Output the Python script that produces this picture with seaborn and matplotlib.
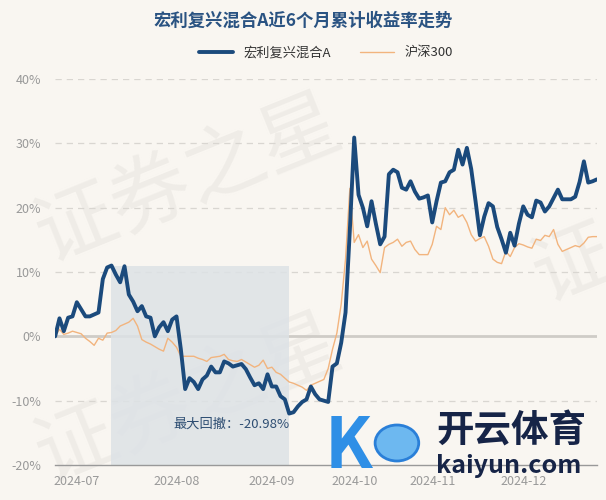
import numpy as np
import pandas as pd
import seaborn as sns
import matplotlib.pyplot as plt
from matplotlib.patches import Circle

# 数据: 交易日序号 -> 累计收益率(%)
fund_name = "宏利复兴混合A"
index_name = "沪深300"

fund = [0.0, 2.8, 0.8, 2.9, 3.1, 5.3, 4.2, 3.1, 3.1, 3.4,
        3.7, 8.9, 10.7, 11.0, 9.6, 8.4, 10.9, 6.5, 5.4, 3.9,
        4.7, 3.1, 2.9, 0.0, 1.4, 2.2, 0.8, 2.6, 3.1, -2.0,
        -8.2, -6.5, -7.1, -8.2, -6.7, -6.1, -4.7, -5.6, -5.6, -3.9,
        -4.2, -4.7, -4.5, -4.3, -5.1, -6.4, -7.6, -7.3, -8.2, -5.9,
        -7.8, -7.8, -9.3, -9.8, -12.0, -11.8, -10.9, -10.2, -9.8, -7.8,
        -9.0, -9.8, -10.0, -10.2, -4.7, -4.2, -1.0, 3.7, 16.6, 30.9,
        22.0, 20.0, 17.1, 21.0, 17.5, 14.3, 15.5, 25.2, 25.9, 25.5,
        23.1, 22.8, 24.1, 22.5, 21.4, 21.6, 21.9, 17.7, 21.0, 23.9,
        24.1, 25.5, 25.9, 29.0, 26.7, 29.3, 26.0, 21.0, 15.7, 18.6,
        20.7, 20.2, 17.0, 15.1, 13.0, 16.1, 14.1, 17.5, 20.2, 18.9,
        18.5, 21.1, 20.8, 19.4, 20.2, 21.5, 22.8, 21.3, 21.3, 21.3,
        21.7, 24.0, 27.2, 23.9, 24.1, 24.4]

hs300 = [0.0, 1.1, 0.3, 0.5, 0.8, 0.6, 0.4, -0.3, -0.8, -1.4,
         -0.3, -0.6, 0.5, 0.6, 0.9, 1.6, 1.9, 2.2, 2.8, 1.6,
         -0.5, -0.9, -1.2, -1.6, -2.0, -2.3, -0.3, -0.9, -1.7, -3.1,
         -3.1, -3.1, -3.1, -3.4, -3.6, -3.9, -3.3, -3.2, -3.1, -2.8,
         -3.6, -3.8, -3.9, -3.6, -4.0, -4.4, -4.8, -4.5, -3.7, -5.0,
         -4.8, -5.6, -5.9, -6.5, -7.1, -7.3, -7.6, -7.9, -8.4, -7.6,
         -7.3, -7.0, -6.7, -5.0, -2.0, 0.5, 5.0, 12.0, 23.0, 14.6,
         15.8, 13.8, 14.8, 12.0, 11.0, 9.9, 13.8, 14.3, 14.6, 15.1,
         14.0, 14.6, 14.8, 13.5, 12.7, 12.7, 12.7, 14.3, 17.1, 16.6,
         20.0, 18.9, 19.6, 18.5, 18.9, 17.7, 15.8, 14.8, 15.2, 15.5,
         14.0, 12.0, 11.5, 11.3, 13.2, 12.4, 13.8, 14.4, 14.2, 13.9,
         13.7, 15.1, 14.9, 15.7, 15.5, 16.6, 14.3, 13.2, 13.5, 13.8,
         14.1, 13.9, 14.5, 15.4, 15.5, 15.5]

month_pos = [5, 28, 50, 69, 87, 108]
month_labels = ["2024-07", "2024-08", "2024-09", "2024-10", "2024-11", "2024-12"]
y_ticks = [-20, -10, 0, 10, 20, 30, 40]
drawdown_text = "最大回撤：-20.98%"

df = pd.DataFrame({"day": np.arange(len(fund)), "fund": fund, "hs300": hs300})

sns.set_theme(style="white")
plt.rcParams["font.family"] = ["Noto Sans CJK SC", "DejaVu Sans"]

bg = "#f9f6f1"
navy = "#1b4a7c"
orange = "#f2b47e"
wm = "#efece7"

fig = plt.figure(figsize=(6.06, 5.0), dpi=100, facecolor=bg)
ax = fig.add_axes([0.091, 0.07, 0.894, 0.772])
ax.set_facecolor("none")

# 背景水印 (放在坐标轴下面)
fig.text(0.04, 0.64, "证券之星", fontsize=58, color=wm, rotation=22,
         ha="left", va="center", zorder=-1)
fig.text(0.04, 0.20, "证券之星", fontsize=58, color=wm, rotation=22,
         ha="left", va="center", zorder=-1)
fig.text(0.86, 0.50, "证券", fontsize=58, color=wm, rotation=22,
         ha="left", va="center", zorder=-1, clip_on=True)

# 最大回撤区域
trough = int(np.argmin(df["fund"]))
peak = int(np.argmax(df["fund"][:trough + 1]))
ax.fill_between([peak, trough], df["fund"][peak], -20, color="#dde2e6",
                alpha=0.85, zorder=1, linewidth=0)
ax.text(trough, -12.6, drawdown_text, ha="right", va="top", fontsize=9.5,
        color="#2d4d72", zorder=5)

for v in [10, 20, 30, 40, -10]:
    ax.axhline(v, color="#d9d6d1", lw=0.9, ls=(0, (5, 4)), zorder=0.5)
ax.axhline(0, color="#cfccc7", lw=2, zorder=0.6)

sns.lineplot(data=df, x="day", y="hs300", ax=ax, color=orange, lw=1.0,
             zorder=2, label=index_name)
sns.lineplot(data=df, x="day", y="fund", ax=ax, color=navy, lw=2.8,
             zorder=3, label=fund_name)

ax.set_xlim(0, len(fund) - 1)
ax.set_ylim(-20, 40)
ax.set_xticks(month_pos)
ax.set_xticklabels(month_labels)
ax.set_yticks(y_ticks)
ax.set_yticklabels([f"{v}%" for v in y_ticks])
ax.set_xlabel("")
ax.set_ylabel("")
ax.tick_params(axis="x", colors="#999999", labelsize=9, length=4, width=0.8,
               direction="out", pad=3)
ax.tick_params(axis="y", colors="#999999", labelsize=9, length=0, pad=10)
ax.tick_params(axis="x", color="#888888")
for s in ["top", "right", "left"]:
    ax.spines[s].set_visible(False)
ax.spines["bottom"].set_color("#999999")
ax.spines["bottom"].set_linewidth(1)

handles, labels = ax.get_legend_handles_labels()
ax.legend(handles[::-1], labels[::-1], loc="center", bbox_to_anchor=(0.5, 1.068),
          ncol=2, frameon=False, fontsize=9.5, handlelength=2.6,
          columnspacing=2.2, labelcolor="#333333")

fig.text(0.5, 0.958, "宏利复兴混合A近6个月累计收益率走势", ha="center", va="center",
         fontsize=12.5, fontweight="bold", color="#2a5382")

# 右下角标志
fig.text(0.535, 0.105, "K", fontsize=50, fontstyle="italic", fontweight="bold",
         color="#2f8fe6", ha="left", va="center", zorder=6)
ball = Circle((0.655, 0.114), 0.036, transform=fig.transFigure, facecolor="#6db8f0",
              edgecolor="#2a7fd8", lw=2, zorder=6)
fig.patches.append(ball)
fig.text(0.72, 0.138, "开云体育", fontsize=27, fontweight="bold", color="#162447",
         ha="left", va="center", zorder=6)
fig.text(0.72, 0.068, "kaiyun.com", fontsize=18, fontweight="bold", color="#162447",
         ha="left", va="center", zorder=6)

fig.savefig("out.png", dpi=100, facecolor=bg)
